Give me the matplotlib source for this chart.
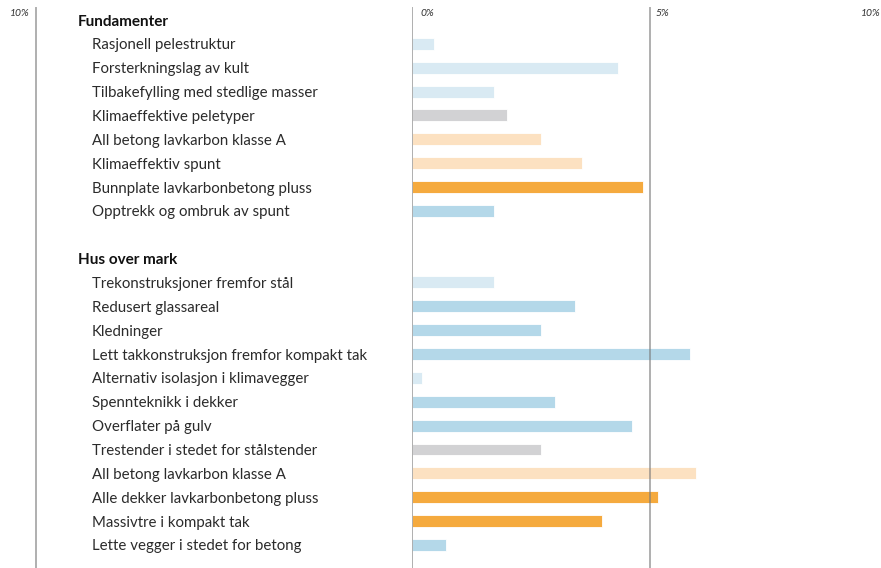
import matplotlib
matplotlib.use("Agg")
import matplotlib.pyplot as plt
from matplotlib.lines import Line2D

# grupper og tiltak
fund_labels = [
    "Rasjonell pelestruktur",
    "Forsterkningslag av kult",
    "Tilbakefylling med stedlige masser",
    "Klimaeffektive peletyper",
    "All betong lavkarbon klasse A",
    "Klimaeffektiv spunt",
    "Bunnplate lavkarbonbetong pluss",
    "Opptrekk og ombruk av spunt",
]
fund_values = [0.46, 4.33, 1.71, 1.99, 2.70, 3.56, 4.84, 1.71]
fund_kind = ["lys", "lys", "lys", "graa", "lysor", "lysor", "or", "blaa"]

hus_labels = [
    "Trekonstruksjoner fremfor stål",
    "Redusert glassareal",
    "Kledninger",
    "Lett takkonstruksjon fremfor kompakt tak",
    "Alternativ isolasjon i klimavegger",
    "Spennteknikk i dekker",
    "Overflater på gulv",
    "Trestender i stedet for stålstender",
    "All betong lavkarbon klasse A",
    "Alle dekker lavkarbonbetong pluss",
    "Massivtre i kompakt tak",
    "Lette vegger i stedet for betong",
]
hus_values = [1.71, 3.41, 2.71, 5.83, 0.20, 2.99, 4.61, 2.70, 5.97, 5.16, 3.99, 0.71]
hus_kind = ["lys", "blaa", "blaa", "blaa", "lys", "blaa", "blaa", "graa",
            "lysor", "or", "or", "blaa"]

group_names = ["Fundamenter", "Hus over mark"]
ticks = [0, 5, 10]

colors = {
    "lys": "#d9eaf3",
    "blaa": "#b4d8e9",
    "graa": "#d2d2d4",
    "lysor": "#fce1c1",
    "or": "#f5aa3e",
}

W, H = 881, 568
fig = plt.figure(figsize=(W / 100, H / 100), dpi=100)

x0_px, x10_px = 412.3, 888.0
ax = fig.add_axes([x0_px / W, 0, (x10_px - x0_px) / W, 1])
ax.set_xlim(0, 10)

row0_px, step_px = 20.0, 23.86
ax.set_ylim((H - row0_px) / step_px, -row0_px / step_px)
ax.axis("off")
ax.patch.set_visible(False)

font = "Lato"
txt_col = "#2b2b2b"

# bygg rader: overskrift, tiltak, tom rad
rows = []
for gi, (name, labs, vals, kinds) in enumerate(
        [(group_names[0], fund_labels, fund_values, fund_kind),
         (group_names[1], hus_labels, hus_values, hus_kind)]):
    rows.append(("head", name, None, None))
    for l, v, k in zip(labs, vals, kinds):
        rows.append(("item", l, v, k))
    if gi == 0:
        rows.append(("blank", "", None, None))

for i, (typ, lab, val, kind) in enumerate(rows):
    ypx = row0_px + i * step_px
    yf = 1 - (ypx + 1.5) / H
    if typ == "head":
        fig.text(78 / W, yf, lab, ha="left", va="center", fontsize=11,
                 fontweight="bold", family=font, color="#111111")
    elif typ == "item":
        fig.text(92 / W, yf, lab, ha="left", va="center", fontsize=10.8,
                 family=font, color=txt_col)
        ax.barh(i, val, height=0.5, color=colors[kind], edgecolor="white",
                linewidth=0.6, zorder=2)

# rutenett
for t in ticks:
    ax.axvline(t, ymin=0, ymax=1 - 8 / H, color="#7a7a7a", alpha=0.6,
               lw=1.4, zorder=3)

tick_y = 1 - 13 / H
fig.text(420 / W, tick_y, "0%", ha="left", va="center", fontsize=7.5,
         style="italic", family=font, color="#333333")
fig.text(656 / W, tick_y, "5%", ha="left", va="center", fontsize=7.5,
         style="italic", family=font, color="#333333")
fig.text(881 / W, tick_y, "10%", ha="right", va="center", fontsize=7.5,
         style="italic", family=font, color="#333333")

# venstre panel (avkuttet)
fig.add_artist(Line2D([36 / W, 36 / W], [0, 1 - 8 / H], color="#7a7a7a",
                      alpha=0.6, lw=1.4, transform=fig.transFigure))
fig.text(30 / W, tick_y, "10%", ha="right", va="center", fontsize=7.5,
         style="italic", family=font, color="#333333")

fig.savefig("out.png", dpi=100)
